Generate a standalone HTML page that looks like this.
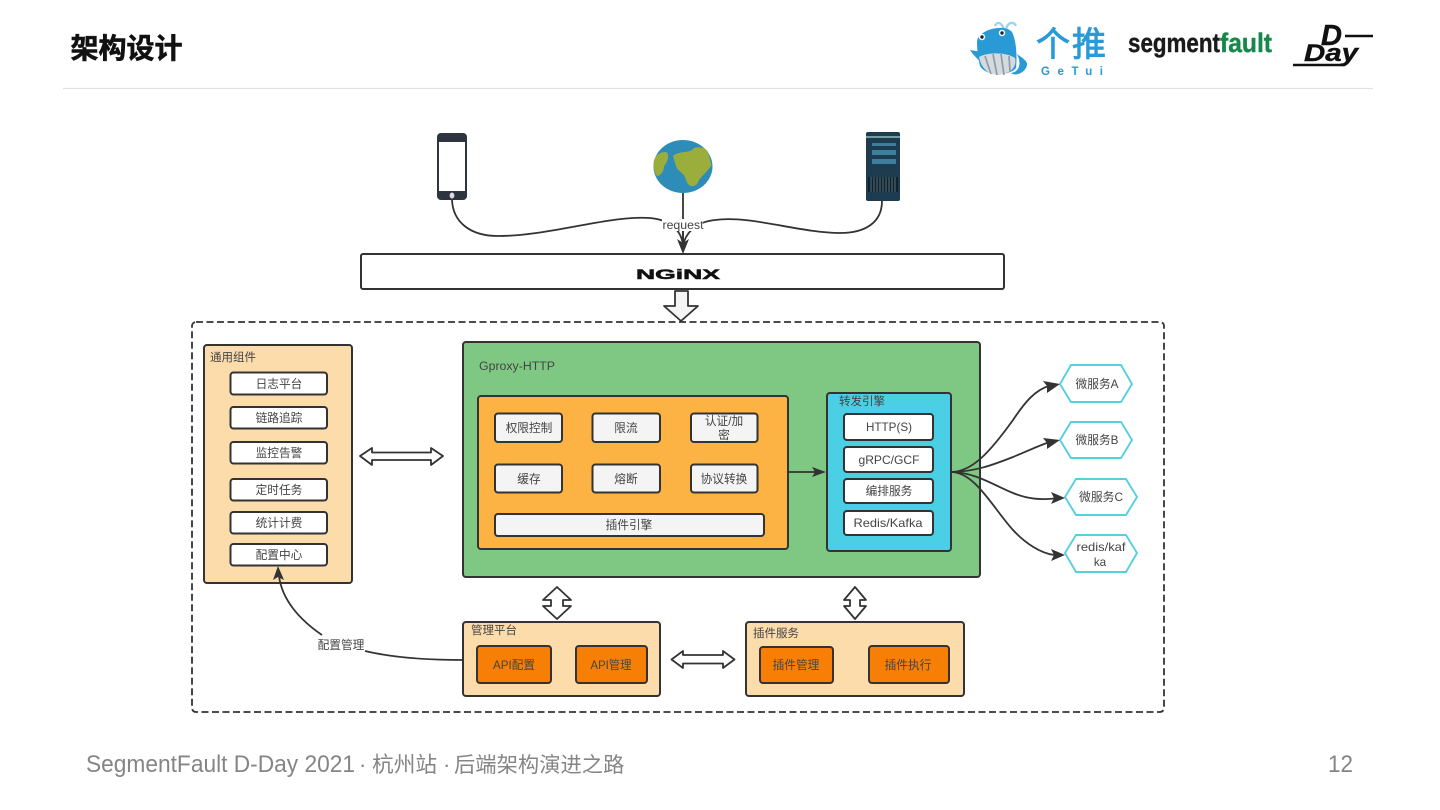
<!DOCTYPE html>
<html><head><meta charset="utf-8"><style>
html,body{margin:0;padding:0;background:#fff}
svg{display:block}
text{font-family:"Liberation Sans","Noto Sans CJK SC",sans-serif}
.b{fill:#FDDCAB;stroke:#333;stroke-width:2}
.w{fill:#fff;stroke:#333;stroke-width:2}
.g{fill:#F4F4F4;stroke:#333;stroke-width:2}
.o{fill:#F77F05;stroke:#333;stroke-width:2}
.h{fill:#fff;stroke:#55D0DF;stroke-width:1.9}
.t{font-size:11.7px;fill:#444;text-anchor:middle}
.l{font-size:11.5px;fill:#444}
.c{fill:none;stroke:#333;stroke-width:1.8}
.a{fill:#333;stroke:none}
.d{fill:#fff;stroke:#333;stroke-width:1.8;stroke-linejoin:round}
</style></head><body>
<svg width="1440" height="810" viewBox="0 0 1440 810" xmlns="http://www.w3.org/2000/svg">
<rect width="1440" height="810" fill="#fff"/>
<text x="70.500" y="58" font-size="28" font-weight="700" fill="#111" stroke="#111" stroke-width=".6">架构设计</text>
<line x1="63" y1="88.500" x2="1373" y2="88.500" stroke="#e2e2e2" stroke-width="1.2"/>

<!-- getui whale -->
<g>
<path d="M1004 30 C1002 22 997 21 995 26 M1006 30 C1007 23 1013 20 1016 26" fill="none" stroke="#9fd3e8" stroke-width="2.4"/>
<path d="M977 42 C977 30 1004 23 1012 32 C1017 42 1017 60 1016 68 C1010 76 986 77 980 66 C978 58 977 50 977 42Z" fill="#2A9AD6"/>
<path d="M970 50 L982 52 L986 66 C980 62 974 56 970 50Z" fill="#2A9AD6"/>
<path d="M979 57 C988 52 1006 52 1015 58 C1017 66 1012 74 997 75 C986 74 981 66 979 57Z" fill="#D5DADF"/>
<path d="M985 56 L991 74 M993 54 L997 75 M1001 54 L1004 75 M1009 56 L1010 72" stroke="#8D9CA8" stroke-width="1.7" fill="none"/>
<path d="M1011 73 C1019 72 1022 64 1017 54 C1021 57 1028 61 1027 65 C1026 72 1016 77 1011 73Z" fill="#2A9AD6"/>
<circle cx="982" cy="37" r="3.200" fill="#fff"/><circle cx="982" cy="37" r="1.700" fill="#123"/>
<circle cx="1002" cy="33" r="3.200" fill="#fff"/><circle cx="1002" cy="33" r="1.700" fill="#123"/>
</g>
<text x="1036" y="56" font-size="34" fill="#2A9AD6" stroke="#2A9AD6" stroke-width=".9" textLength="70" lengthAdjust="spacing">个推</text>
<text x="1041" y="75" font-size="11.500" font-weight="700" fill="#2A9AD6" textLength="62" lengthAdjust="spacing">GeTui</text>
<text x="1128" y="52" font-size="27" font-weight="700" fill="#1a1a1a" stroke="#1a1a1a" stroke-width=".4" textLength="92" lengthAdjust="spacingAndGlyphs">segment</text>
<text x="1220" y="52" font-size="27" font-weight="700" fill="#16894A" stroke="#16894A" stroke-width=".4" textLength="52" lengthAdjust="spacingAndGlyphs">fault</text>
<text x="1321" y="45" font-size="29" font-weight="700" font-style="italic" fill="#111" stroke="#111" stroke-width=".5">D</text>
<line x1="1345" y1="36" x2="1373" y2="36" stroke="#111" stroke-width="2.600"/>
<text x="1304" y="61" font-size="24" font-weight="700" font-style="italic" fill="#111" stroke="#111" stroke-width=".4" textLength="54" lengthAdjust="spacingAndGlyphs">Day</text>
<line x1="1293" y1="65" x2="1345" y2="65" stroke="#111" stroke-width="2.600"/>

<!-- dashed container -->
<rect x="192" y="322" width="972" height="390" rx="4" fill="none" stroke="#333" stroke-width="1.800" stroke-dasharray="7 3.500"/>

<!-- top icons -->
<rect x="437" y="133" width="30" height="67" rx="4" fill="#2E3440"/>
<rect x="439" y="142" width="26" height="49" fill="#fff"/>
<ellipse cx="452" cy="195.500" rx="2.400" ry="3" fill="#ddd"/>
<ellipse cx="683" cy="166.500" rx="29.500" ry="26.500" fill="#2D8DB8"/>
<path d="M673 156 C680 150 690 154 694 148 C700 146 706 148 708 152 L711.500 165 C708 172 700 176 697 184 C692 188 688 186 686 180 C684 172 678 172 676 166Z" fill="#9BAE3B"/>
<path d="M654 160 C656 155 660 152 666 152 C670 154 668 162 664 166 C664 172 660 176 657 176 C654 172 653 166 654 160Z" fill="#9BAE3B"/>
<rect x="866" y="132" width="34" height="69" rx="2" fill="#1D3C50"/>
<rect x="866" y="136.500" width="34" height="1" fill="#cfe"/>
<rect x="872" y="143" width="24" height="3" fill="#3E7FA0"/><rect x="872" y="150" width="24" height="5" fill="#3E7FA0"/><rect x="872" y="159" width="24" height="5" fill="#3E7FA0"/>
<rect x="868" y="177" width="30" height="15" fill="#0F2230"/>
<path d="M871 177v15M874 177v15M877 177v15M880 177v15M883 177v15M886 177v15M889 177v15M892 177v15M895 177v15" stroke="#8aa" stroke-width=".6"/>

<!-- connectors top -->
<path class="c" d="M452 200 C453 222 470 236 498 236 C550 236 610 215 650 218 C672 220 682 232 683 246"/>
<path class="c" d="M882 201 C882 222 866 233 840 233 C800 233 750 215 715 220 C695 222 685 234 683 246"/>
<path class="c" d="M683 193 L683 246"/>
<rect x="662" y="219" width="41" height="12" fill="#fff"/>
<text x="683" y="229" class="t" textLength="41" lengthAdjust="spacingAndGlyphs">request</text>
<path class="c" d="M683 231 L683 246"/>
<path class="a" d="M683 254 L677 239 L683 243 L689 239Z"/>

<!-- nginx -->
<rect class="w" x="361" y="254" width="643" height="35" rx="2"/>
<text x="636" y="279" font-size="14" font-weight="700" fill="#111" textLength="84" lengthAdjust="spacingAndGlyphs" stroke="#111" stroke-width=".5">NGiNX</text>
<path d="M675 291 L688 291 L688 306 L698 306 L681 321 L664 306 L675 306Z" fill="#f4f4f4" stroke="#333" stroke-width="1.800" stroke-linejoin="round"/>

<!-- left panel -->
<rect class="b" x="204" y="345" width="148" height="238" rx="3"/>
<text class="l" x="210" y="361">通用组件</text>
<rect class="w" x="230.500" y="372.500" width="96.500" height="22" rx="3"/><text class="t" x="279" y="388">日志平台</text>
<rect class="w" x="230.500" y="407" width="96.500" height="21.500" rx="3"/><text class="t" x="279" y="422">链路追踪</text>
<rect class="w" x="230.500" y="442" width="96.500" height="21.500" rx="3"/><text class="t" x="279" y="457">监控告警</text>
<rect class="w" x="230.500" y="479" width="96.500" height="21.500" rx="3"/><text class="t" x="279" y="494">定时任务</text>
<rect class="w" x="230.500" y="512" width="96.500" height="21.500" rx="3"/><text class="t" x="279" y="527">统计计费</text>
<rect class="w" x="230.500" y="544" width="96.500" height="21.500" rx="3"/><text class="t" x="279" y="559">配置中心</text>

<path class="d" d="M360 456 L372 448 L372 452.500 L431 452.500 L431 448 L443 456 L431 465 L431 460 L372 460 L372 465Z"/>

<!-- green -->
<rect x="463" y="342" width="517" height="235" rx="3" fill="#7FC883" stroke="#333" stroke-width="2"/>
<text class="l" x="479" y="370" textLength="76" lengthAdjust="spacingAndGlyphs">Gproxy-HTTP</text>
<rect x="478" y="396" width="310" height="153" rx="3" fill="#FDB244" stroke="#333" stroke-width="2"/>
<rect class="g" x="495" y="413.500" width="67" height="28.500" rx="3"/><text class="t" x="529" y="432">权限控制</text>
<rect class="g" x="592.500" y="413.500" width="67.500" height="28.500" rx="3"/><text class="t" x="626" y="432">限流</text>
<rect class="g" x="691" y="413.500" width="66.500" height="28.500" rx="3"/><text class="t" x="724" y="425">认证/加</text><text class="t" x="724" y="439">密</text>
<rect class="g" x="495" y="464.500" width="67" height="28" rx="3"/><text class="t" x="529" y="483">缓存</text>
<rect class="g" x="592.500" y="464.500" width="67.500" height="28" rx="3"/><text class="t" x="626" y="483">熔断</text>
<rect class="g" x="691" y="464.500" width="66.500" height="28" rx="3"/><text class="t" x="724" y="483">协议转换</text>
<rect class="g" x="495" y="514" width="269" height="22" rx="3"/><text class="t" x="629" y="529">插件引擎</text>

<path class="c" d="M788 472 L818 472"/>
<path class="a" d="M826 472 L812 467 L815 472 L812 477Z"/>

<!-- forward engine -->
<rect x="827" y="393" width="124" height="158" rx="3" fill="#4BCFE5" stroke="#333" stroke-width="2"/>
<text class="l" x="839" y="405">转发引擎</text>
<rect class="w" x="844" y="414" width="89" height="26" rx="3"/><text class="t" x="889" y="431" textLength="46" lengthAdjust="spacingAndGlyphs">HTTP(S)</text>
<rect class="w" x="844" y="447" width="89" height="25" rx="3"/><text class="t" x="889" y="464" textLength="61" lengthAdjust="spacingAndGlyphs">gRPC/GCF</text>
<rect class="w" x="844" y="479" width="89" height="24" rx="3"/><text class="t" x="889" y="495">编排服务</text>
<rect class="w" x="844" y="511" width="89" height="24" rx="3"/><text class="t" x="888" y="527" textLength="69" lengthAdjust="spacingAndGlyphs">Redis/Kafka</text>

<!-- hex -->
<polygon class="h" points="1060,384 1071,365 1121,365 1132,384 1121,402 1071,402"/>
<text class="t" x="1097" y="388" textLength="43" lengthAdjust="spacingAndGlyphs">微服务A</text>
<polygon class="h" points="1060,440 1071,422 1121,422 1132,440 1121,458 1071,458"/>
<text class="t" x="1097" y="444" textLength="43" lengthAdjust="spacingAndGlyphs">微服务B</text>
<polygon class="h" points="1065,497 1076,479 1126,479 1137,497 1126,515 1076,515"/>
<text class="t" x="1101" y="501" textLength="44" lengthAdjust="spacingAndGlyphs">微服务C</text>
<polygon class="h" points="1065,553 1076,535 1126,535 1137,553 1126,572 1076,572"/>
<text class="t" x="1101" y="551" textLength="49" lengthAdjust="spacingAndGlyphs">redis/kaf</text>
<text class="t" x="1100" y="566">ka</text>

<!-- fan-out -->
<path class="c" d="M951 472 C972 472 990 452 1013 420 C1025 402 1035 390 1050 385.500"/>
<path class="c" d="M951 472 C975 472 995 464 1013 457 C1030 450 1040 445 1050 442"/>
<path class="c" d="M951 472 C975 472 995 486 1013 493 C1028 499 1040 500 1054 498.500"/>
<path class="c" d="M951 472 C975 472 993 508 1013 530 C1025 543 1040 553 1054 555"/>
<path class="a" d="M1060 384 L1043 381 L1047 386 L1047 393Z"/>
<path class="a" d="M1060 440 L1043 438 L1047 443 L1047 449Z"/>
<path class="a" d="M1065 498 L1051 492 L1054 498 L1051 504Z"/>
<path class="a" d="M1065 555 L1051 549 L1054 555 L1051 561Z"/>

<!-- vertical double arrows -->
<path class="d" d="M557 587 L571 600 L563 600 L563 606 L571 606 L557 619 L543 606 L551 606 L551 600 L543 600Z"/>
<path class="d" d="M855 587 L866 600 L860 600 L860 606 L866 606 L855 619 L844 606 L850 606 L850 600 L844 600Z"/>

<!-- bottom panels -->
<rect class="b" x="463" y="622" width="197" height="74" rx="3"/>
<text class="l" x="471" y="634">管理平台</text>
<rect class="o" x="477" y="646" width="74" height="37" rx="3"/><text class="t" x="514" y="669" textLength="42" lengthAdjust="spacingAndGlyphs">API配置</text>
<rect class="o" x="576" y="646" width="71" height="37" rx="3"/><text class="t" x="611" y="669" textLength="41" lengthAdjust="spacingAndGlyphs">API管理</text>

<path class="d" d="M671.500 659.500 L683 651 L683 655 L723 655 L723 651 L734.500 659.500 L723 668 L723 663.500 L683 663.500 L683 668Z"/>

<rect class="b" x="746" y="622" width="218" height="74" rx="3"/>
<text class="l" x="753" y="637">插件服务</text>
<rect class="o" x="760" y="647" width="73" height="36" rx="3"/><text class="t" x="796" y="669">插件管理</text>
<rect class="o" x="869" y="646" width="80" height="37" rx="3"/><text class="t" x="908" y="669">插件执行</text>

<!-- config connector -->
<path class="c" d="M463 660 C420 660 390 657 365 651"/>
<text class="t" x="341" y="649">配置管理</text>
<path class="c" d="M322 635 C300 620 282 600 279 576"/>
<path class="a" d="M278 566 L273 580 L278 577 L284 580Z"/>

<!-- footer -->
<text x="86" y="772" font-size="24" fill="#858585" textLength="269" lengthAdjust="spacingAndGlyphs">SegmentFault D-Day 2021</text>
<text x="359" y="772" font-size="22" fill="#858585">·</text>
<text x="372" y="772" font-size="21.700" fill="#858585">杭州站</text>
<text x="443" y="772" font-size="22" fill="#858585">·</text>
<text x="454" y="772" font-size="21.300" fill="#858585">后端架构演进之路</text>
<text x="1328" y="772" font-size="24" fill="#858585" textLength="25" lengthAdjust="spacingAndGlyphs">12</text>
</svg>
</body></html>
